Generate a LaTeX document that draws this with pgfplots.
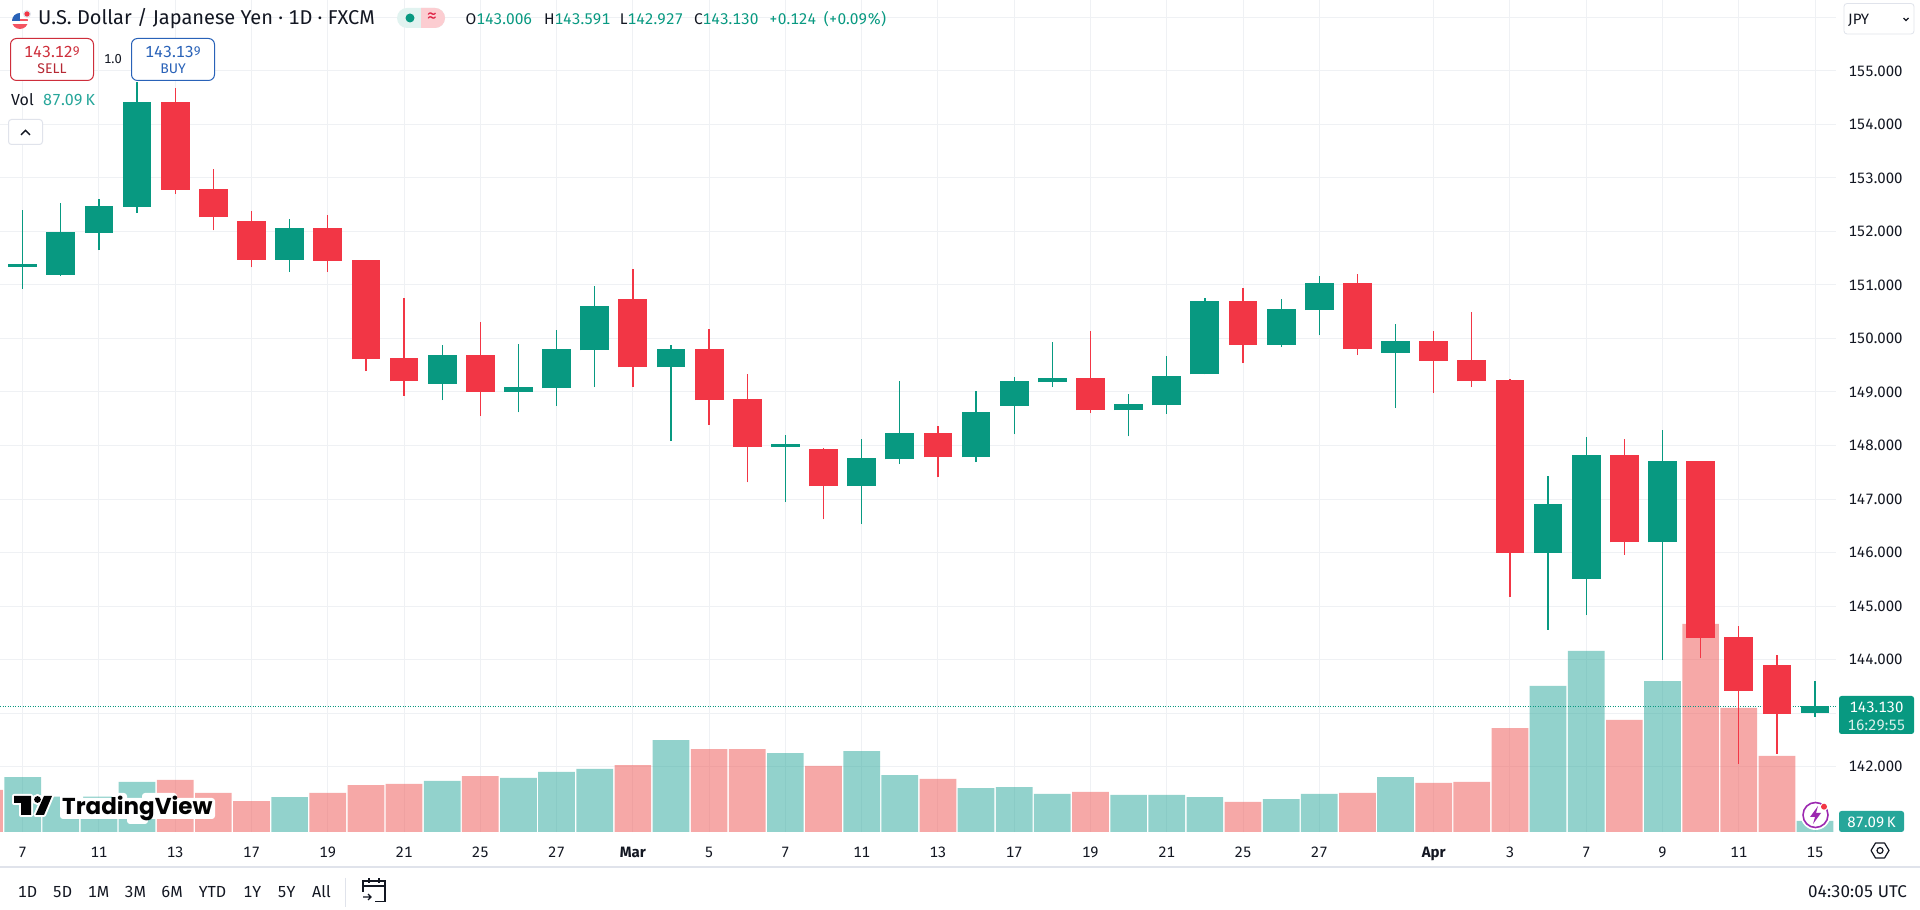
\documentclass[border=0pt]{standalone}
\usepackage{fontspec}
\usepackage{pgfplots}
\usepackage{pgfplotstable}
\pgfplotsset{compat=1.18}
\setmainfont[Numbers={Lining,Monospaced}]{Fira Sans}
\newfontfamily\logofont{Poppins}

\definecolor{up}{HTML}{089981}
\definecolor{down}{HTML}{F23645}
\definecolor{volup}{HTML}{26A69A}
\definecolor{voldown}{HTML}{EF5350}
\definecolor{ink}{HTML}{131722}
\definecolor{gridc}{HTML}{EFF1F4}
\definecolor{sep}{HTML}{E0E3EB}
\definecolor{buy}{HTML}{2962B8}
\definecolor{tvpurple}{HTML}{9C27B0}
\newcommand{\px}[1]{\fontsize{#1}{#1}\selectfont}

% body top / body bottom / high / low / volume in K
\pgfplotstableread{
i  top     bot     h       l       v
0  151.40  151.34  152.41  150.93  435
1  151.99  151.19  152.54  151.17  280
2  152.48  151.98  152.60  151.65  280
3  154.42  152.46  154.80  152.35  396
7  152.07  151.47  152.23  151.24  277
11 149.69  149.15  149.88  148.85  404
13 149.09  149.00  149.89  148.62  428
14 149.80  149.07  150.16  148.74  475
15 150.60  149.78  150.98  149.09  499
17 149.80  149.46  149.88  148.08  728
20 148.03  147.97  148.19  146.94  625
22 147.76  147.24  148.12  146.53  641
23 148.23  147.74  149.20  147.65  451
25 148.62  147.78  149.02  147.69  348
26 149.20  148.74  149.28  148.21  356
27 149.26  149.18  149.93  149.09  301
29 148.77  148.66  148.96  148.17  293
30 149.30  148.75  149.67  148.59  293
31 150.70  149.33  150.75  149.33  277
33 150.55  149.88  150.74  149.84  261
34 151.04  150.53  151.17  150.06  301
36 149.95  149.73  150.27  148.70  435
40 146.90  146.00  147.43  144.56  1156
41 147.82  145.51  148.16  144.83  1433
43 147.71  146.19  148.29  144.00  1195
47 143.130 143.006 143.591 142.927 87.09
}\upbars

\pgfplotstableread{
i  top     bot     h       l       v
-1 150.00  150.00  150.00  150.00  333
4  154.42  152.78  154.68  152.70  412
5  152.79  152.27  153.17  152.02  309
6  152.20  151.47  152.39  151.33  245
8  152.07  151.45  152.31  151.24  309
9  151.47  149.61  151.47  149.39  372
10 149.63  149.20  150.75  148.93  380
12 149.69  149.00  150.31  148.55  443
16 150.74  149.46  151.30  149.09  530
18 149.80  148.85  150.17  148.38  657
19 148.87  147.97  149.33  147.31  657
21 147.93  147.24  147.95  146.62  523
24 148.23  147.78  148.36  147.41  420
28 149.26  148.66  150.14  148.60  317
32 150.70  149.88  150.94  149.54  238
35 151.04  149.80  151.21  149.69  309
37 149.95  149.58  150.14  148.98  388
38 149.60  149.20  150.49  149.09  396
39 149.22  146.00  149.24  145.17  823
42 147.82  146.19  148.12  145.96  887
44 147.71  144.41  147.71  144.02  1647
45 144.43  143.42  144.62  142.05  982
46 143.89  142.99  144.09  142.24  602
}\downbars

\pgfplotsset{
  pane/.style={
    at={(0pt,78pt)}, anchor=south west, scale only axis,
    width=1836pt, height=832pt,
    xmin=-0.595, xmax=47.55,
  },
  price/.style={pane, ymin=140.776, ymax=156.327},
  wick/.style={draw=none, no markers, forget plot,
    error bars/.cd, y dir=plus, y explicit, error mark=none,
    error bar style={line width=1.3pt, color=#1}},
  body/.style={draw=none, no markers, forget plot,
    error bars/.cd, y dir=plus, y explicit, error mark=none,
    error bar style={line width=28.8pt, color=#1}},
}

\begin{document}
\begin{tikzpicture}
\useasboundingbox (0,0) rectangle (1920pt,910pt);
\fill[white] (0,0) rectangle (1920pt,910pt);

% grid and tick labels
\begin{axis}[
    price,
    axis line style={draw=none},
    tick style={draw=none},
    xmajorgrids, ymajorgrids,
    grid style={gridc, line width=1pt},
    xtick={0,2,4,6,8,10,12,14,16,18,20,22,24,26,28,30,32,34,37,39,41,43,45,47},
    xticklabels={7,11,13,17,19,21,25,27,\textbf{Mar},5,7,11,13,17,19,21,25,27,\textbf{Apr},3,7,9,11,15},
    x tick label style={font=\px{15}, text=ink, yshift=-26pt, anchor=base, text height=11pt},
    ytick={142,143,...,156},
    yticklabels={142.000,,144.000,145.000,146.000,147.000,148.000,149.000,150.000,151.000,152.000,153.000,154.000,155.000,},
    yticklabel pos=right,
    y tick label style={font=\px{15}, text=ink, anchor=west, xshift=9pt},
]
\end{axis}

% volume
\begin{axis}[
    pane, hide axis, ymin=0, ymax=6587,
    ybar, bar shift=0pt, bar width=36.7pt,
]
\addplot[fill=volup, fill opacity=0.5, draw=none] table[x=i, y=v] {\upbars};
\addplot[fill=voldown, fill opacity=0.5, draw=none] table[x=i, y=v] {\downbars};
\end{axis}

% candles
\begin{axis}[price, hide axis]
\addplot[up, dash pattern=on 1pt off 1.5pt, line width=1pt, forget plot] coordinates {(-0.595,143.13) (47.55,143.13)};
\addplot[wick=up] table[x=i, y=l, y error plus expr=\thisrow{h}-\thisrow{l}] {\upbars};
\addplot[body=up] table[x=i, y=bot, y error plus expr=\thisrow{top}-\thisrow{bot}] {\upbars};
\addplot[wick=down] table[x=i, y=l, y error plus expr=\thisrow{h}-\thisrow{l}] {\downbars};
\addplot[body=down] table[x=i, y=bot, y error plus expr=\thisrow{top}-\thisrow{bot}] {\downbars};
\end{axis}

% page furniture, in pixels from the top left
\begin{scope}[shift={(0pt,910pt)}, x=1pt, y=-1pt, every node/.style={inner sep=0pt, text=ink}]
  % flag
  \begin{scope}
    \clip (20,21) circle (8);
    \fill[white] (12,13) rectangle (28,29);
    \fill[down!85] (12,24) rectangle (28,29);
    \fill[down!85] (12,19) rectangle (28,21);
    \fill[buy] (12,13) rectangle (20,21);
  \end{scope}
  \fill[sep] (27,14) circle (4);
  \fill[down] (27,14) circle (2.6);
  \node[anchor=west] at (38,19) {\px{20}U.S. Dollar / Japanese Yen · 1D · FXCM};
  % status pill
  \fill[up!12, rounded corners=10pt] (397,8) rectangle (445,28);
  \begin{scope}
    \clip (421,0) rectangle (450,36);
    \fill[down!25, rounded corners=10pt] (397,8) rectangle (445,28);
  \end{scope}
  \fill[up] (410,18) circle (4.5);
  \node at (432,18) {\px{20}\color{down!60!purple}≈};
  % ohlc
  \node[anchor=west] at (465.4,19) {\px{15.5}O\textcolor{up}{143.006}};
  \node[anchor=west] at (543.8,19) {\px{15.5}H\textcolor{up}{143.591}};
  \node[anchor=west] at (619.7,19) {\px{15.5}L\textcolor{up}{142.927}};
  \node[anchor=west] at (693.8,19) {\px{15.5}C\textcolor{up}{143.130}};
  \node[anchor=west] at (769,19) {\px{15.5}\textcolor{up}{+0.124}};
  \node[anchor=west] at (823.6,19) {\px{15.5}\textcolor{up}{(+0.09\%)}};
  % sell, buy
  \draw[down!85!black, fill=white, rounded corners=6pt, line width=1pt] (10.5,38.5) rectangle (93.5,80.5);
  \node at (52,52) {\px{16}\textcolor{down!85!black}{143.12\raisebox{2.5pt}{\px{12.5}9}}};
  \node at (52,69) {\px{14}\textcolor{down!75!black}{SELL}};
  \node at (113,59) {\px{13}1.0};
  \draw[buy, fill=white, rounded corners=6pt, line width=1pt] (131.5,38.5) rectangle (214.5,80.5);
  \node at (173,52) {\px{16}\textcolor{buy}{143.13\raisebox{2.5pt}{\px{12.5}9}}};
  \node at (173,69) {\px{14}\textcolor{buy}{BUY}};
  % volume legend
  \node[anchor=west] at (11,100) {\px{16}Vol};
  \node[anchor=west] at (43,100) {\px{16}\textcolor{volup}{87.09\,K}};
  % collapse button
  \draw[sep, fill=white, rounded corners=3pt, line width=1pt] (8.5,119.5) rectangle (42.5,144.5);
  \draw[ink, line width=1.4pt] (21,135) -- (25.5,130.5) -- (30,135);
  % currency
  \draw[sep, fill=white, rounded corners=3pt, line width=0.8pt] (1844,3.5) rectangle (1914,34);
  \node[anchor=west] at (1848,20) {\px{15}JPY};
  \draw[ink, line width=1.2pt] (1903.5,18) -- (1906,20.5) -- (1908.5,18);
  % last price and volume tags
  \fill[up, rounded corners=2.5pt] (1839,696) rectangle (1914,734);
  \node[text=white] at (1876.5,707) {\px{15}143.130};
  \node[text=white] at (1876.5,725) {\px{15}\textcolor{white!85!up}{16:29:55}};
  \fill[volup, rounded corners=2.5pt] (1839,811) rectangle (1904,832);
  \node[text=white] at (1871.5,822) {\px{15}87.09\,K};
  % lightning badge
  \fill[white] (1815.5,815) circle (15);
  \draw[tvpurple, line width=1.6pt] (1815.5,815) circle (12.5);
  \fill[tvpurple] (1818,806) -- (1810,817) -- (1815,817) -- (1813,824) -- (1821,813) -- (1816,813) -- cycle;
  \fill[white] (1824,806.7) circle (4);
  \fill[down] (1824,806.7) circle (3);
  % watermark, the white blobs stand in for the halo round the letters
  \begin{scope}
    \def\tvshape{(14,796) -- (31,796) -- (31,815) -- (21,815) -- (21,803) -- (14,803) -- cycle
      (35.5,815) -- (44,796) -- (52,796) -- (44,815) -- cycle}
    \draw[white, line width=4pt, line join=round] \tvshape;
    \draw[white, line width=4pt] (37.5,799.5) circle (3.4);
    \fill[white, rounded corners=3pt] (60,798) rectangle (215,819);
    \fill[white, rounded corners=3pt] (60,793) rectangle (83,803);
    \fill[white, rounded corners=3pt] (112,793) rectangle (127,803);
    \fill[white, rounded corners=3pt] (142,793) rectangle (177,803);
    \fill[white, rounded corners=3pt] (127,810) rectangle (148,824);
    \fill[black!90!ink] \tvshape;
    \fill[black!90!ink] (37.5,799.5) circle (3.4);
    \node[anchor=base west, text=black!90!ink] at (62,815) {\logofont\px{23}\bfseries TradingView};
  \end{scope}
  % bottom bar
  \draw[sep, line width=1.2pt] (0,867) -- (1920,867);
  \foreach \t/\x in {1D/27.6,5D/62.5,1M/98.6,3M/135.3,6M/172,YTD/212.5,1Y/252.3,5Y/286.6,All/321.5}
    \node at (\x,892) {\px{16}\t};
  \draw[sep, line width=1pt] (345,878) -- (345,907);
  \draw[ink, line width=1.1pt] (363,892) -- (363,881) -- (385,881) -- (385,901.5) -- (375,901.5);
  \draw[ink, line width=1.1pt] (363,886) -- (385,886) (369,878.5) -- (369,883.5) (379,878.5) -- (379,883.5);
  \draw[ink, line width=1.1pt] (363,897) -- (371,897) (368,894) -- (371,897) -- (368,900);
  \node[anchor=east] at (1907,892) {\px{17}04:30:05 UTC};
  % settings
  \draw[ink, line width=1.2pt, line join=round] (1871,850.5) -- (1875.5,843) -- (1884.5,843) -- (1889,850.5) -- (1884.5,858) -- (1875.5,858) -- cycle;
  \draw[ink, line width=1.2pt] (1880,850.5) circle (3);
\end{scope}
\end{tikzpicture}
\end{document}
